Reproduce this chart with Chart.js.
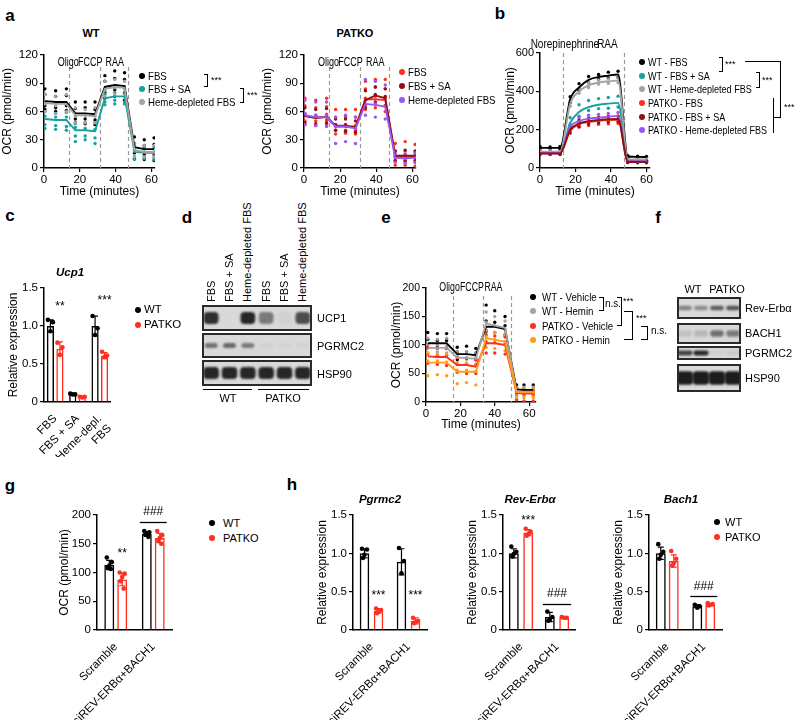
<!DOCTYPE html>
<html>
<head>
<meta charset="utf-8">
<script src="https://cdn.jsdelivr.net/npm/chart.js@4.4.0/dist/chart.umd.min.js"></script>
<style>
body { margin: 0; background: #fff; font-family: "Liberation Sans", Arial, sans-serif; }
#fig { position: relative; width: 800px; height: 721px; overflow: hidden; }
canvas { position: absolute; }
.t { position: absolute; white-space: nowrap; color: #000; font-size: 10.5px; line-height: 1; }
.dot { position: absolute; width: 6px; height: 6px; border-radius: 50%; transform: translate(-50%, -50%); }
.br { position: absolute; box-sizing: border-box; border: 1px solid #000; border-left: none; }
.ln { position: absolute; background: #000; }
</style>
</head>
<body>
<div id="fig"></div>
<script>
// ---- data ----
// panel a (seahorse, WT / PATKO)
var tA = [0.5, 6.5, 12.5, 17.5, 23, 28.5, 34, 39.5, 45, 50.5, 56, 61.5];
var injA = [14, 31, 47];
var injLabelA = [13.5, 25.8, 39.5];
var injNames = ['Oligo', 'FCCP', 'RAA'];

var wtFbs = [71, 70, 70, 58, 58, 57, 86, 88, 87, 22, 20, 20];
var wtSa = [52, 51, 51, 40, 40, 39, 74, 76, 76, 17, 16, 16];
var wtHeme = [69, 68, 68, 56, 56, 55, 84, 86, 85, 19, 17, 17];
var wtFbsReps = [[84,78,66,62],[82,76,64,60],[84,77,66,61],[70,63,52,48],[70,64,52,47],[70,62,51,46],[98,92,80,74],[103,95,83,76],[101,94,80,72],[33,26,16,10],[30,24,14,9],[32,25,14,8]];
var wtSaReps = [[60,55,46,42],[58,54,45,41],[59,54,44,40],[47,43,34,28],[48,42,34,30],[48,41,32,26],[82,78,70,67],[85,80,72,68],[84,79,70,68],[24,19,12,9],[22,17,12,10],[22,17,11,9]];
var wtHemeReps = [[78,68,60],[76,66,58],[78,68,60],[64,55,48],[62,56,48],[64,55,48],[92,84,76],[94,86,78],[92,86,76],[26,18,12],[24,17,12],[24,16,12]];

var pkFbs = [55, 54, 54, 44, 44, 44, 73, 73, 72, 12, 12, 12];
var pkSa = [55, 53, 54, 45, 45, 43, 72, 77, 74, 13, 13, 13];
var pkHeme = [56, 54, 54, 44, 44, 42, 68, 67, 65, 11, 10, 11];
var pkFbsReps = [[74,66,58,50,46],[72,64,56,50,45],[74,65,57,51,46],[62,54,46,40,36],[62,54,46,40,37],[62,54,45,40,36],[92,84,74,66,62],[94,86,76,68,64],[94,84,74,66,60],[26,18,12,8,3],[28,18,12,7,3],[25,17,11,6,2]];
var pkSaReps = [[64,56,48],[62,54,47],[63,55,48],[52,46,40],[52,46,39],[50,44,38],[82,72,64],[86,78,70],[84,76,66],[18,13,8],[19,14,8],[18,13,8]];
var pkHemeReps = [[72,58,46],[70,56,45],[70,56,44],[54,44,26],[56,44,28],[54,42,26],[94,68,56],[92,68,54],[88,66,52],[16,11,6],[15,10,5],[16,11,6]];

// panel b (norepinephrine)
var tB = [0, 5.7, 11.3, 17, 22, 27.4, 33, 38.5, 44, 49.5, 55, 60];
var injB = [13.2, 47.2];
var injLabelB = [14, 38];
var injNamesB = ['Norepinephrine', 'RAA'];
var bWtFbs = [105, 105, 105, 357, 420, 460, 475, 482, 488, 60, 58, 57];
var bWtSa = [80, 80, 80, 235, 292, 318, 330, 336, 340, 40, 38, 38];
var bWtHeme = [85, 85, 85, 335, 400, 432, 446, 452, 456, 45, 44, 44];
var bPkFbs = [78, 78, 78, 195, 228, 240, 246, 250, 252, 35, 33, 33];
var bPkSa = [76, 76, 76, 200, 232, 244, 250, 254, 256, 32, 31, 31];
var bPkHeme = [77, 77, 77, 215, 245, 258, 262, 268, 272, 36, 34, 34];
var bWtFbsReps = [[112,100],[110,100],[112,98],[372,340],[440,405],[478,445],[488,462],[500,470],[505,472],[64,55],[62,54],[60,54]];
var bWtSaReps = [[86,75],[85,76],[84,76],[262,215],[330,270],[352,300],[362,310],[368,312],[375,318],[44,36],[42,35],[41,35]];
var bWtHemeReps = [[90,80],[90,80],[88,80],[350,322],[415,390],[445,420],[458,438],[465,442],[470,445],[50,42],[48,41],[48,40]];
var bPkFbsReps = [[84,72],[83,72],[82,72],[210,180],[245,212],[260,222],[265,228],[270,230],[272,232],[40,30],[38,28],[38,28]];
var bPkSaReps = [[82,70],[80,70],[80,70],[212,188],[248,218],[258,230],[262,236],[266,240],[270,242],[36,28],[35,27],[35,27]];
var bPkHemeReps = [[82,72],[82,72],[82,72],[228,202],[262,230],[275,242],[280,246],[285,250],[290,255],[40,32],[38,30],[38,30]];

// panel e (hemin)
var tE = [1, 6.6, 12, 18.2, 23.6, 29, 35, 40, 46, 52.7, 57, 62.4];
var injE = [15.5, 33, 49.4];
var injLabelE = [13.7, 26.7, 39.2];
var eWtVeh = [103, 103, 103, 84, 84, 82, 132, 132, 128, 22, 21, 21];
var eWtHem = [95, 95, 95, 78, 77, 76, 138, 134, 130, 18, 18, 18];
var ePkVeh = [80, 79, 79, 65, 65, 62, 103, 103, 100, 16, 15, 15];
var ePkHem = [69, 69, 69, 53, 53, 53, 112, 109, 106, 18, 17, 17];
var eWtVehReps = [[122,110,95],[120,108,96],[120,108,94],[96,88,74],[98,88,76],[94,86,74],[170,142,124],[160,140,122],[150,134,118],[30,24,16],[30,22,16],[30,22,14]];
var eWtHemReps = [[112,100,86],[110,100,88],[112,98,86],[88,80,68],[88,78,68],[86,78,66],[158,140,126],[150,134,122],[142,128,116],[26,20,12],[26,18,12],[26,18,12]];
var ePkVehReps = [[96,84,68],[94,82,66],[94,82,64],[78,66,52],[76,66,50],[74,64,50],[118,106,86],[116,104,86],[114,102,84],[22,16,4],[20,14,2],[20,14,2]];
var ePkHemReps = [[86,72,46],[84,72,48],[84,70,46],[68,56,32],[68,56,34],[66,54,30],[126,114,96],[122,110,94],[118,106,90],[24,18,8],[22,16,8],[22,16,8]];

// panel c (Ucp1)
var cCats = ['FBS', 'FBS + SA', ['Heme-depl.', 'FBS']];
var cWt = [1.0, 0.1, 1.0];
var cWtSd = [0.08, 0.01, 0.13];
var cWtReps = [[1.08, 1.05, 0.93], [0.11, 0.10, 0.10], [1.13, 0.97, 0.88]];
var cPk = [0.7, 0.07, 0.61];
var cPkSd = [0.09, 0.01, 0.04];
var cPkReps = [[0.78, 0.72, 0.62], [0.07, 0.07, 0.06], [0.66, 0.61, 0.59]];

// panel g / h
var siCats = ['Scramble', 'siREV-ERBα+BACH1'];
var gWt = [113, 167], gWtSd = [8, 4], gWtReps = [[126,118,112,108,106],[172,170,168,166,162]];
var gPk = [88, 160], gPkSd = [11, 8], gPkReps = [[100,98,92,85,72],[172,165,160,155,150]];
var pgWt = [1.0, 0.89], pgWtSd = [0.06, 0.17], pgWtReps = [[1.06,1.05,0.98,0.94],[1.07,0.90,0.74]];
var pgPk = [0.25, 0.12], pgPkSd = [0.03, 0.04], pgPkReps = [[0.28,0.26,0.24,0.22],[0.16,0.12,0.10,0.09]];
var reWt = [1.0, 0.17], reWtSd = [0.06, 0.06], reWtReps = [[1.09,1.02,0.99,0.96],[0.24,0.17,0.13,0.12]];
var rePk = [1.27, 0.16], rePkSd = [0.04, 0.01], rePkReps = [[1.32,1.28,1.25,1.23],[0.17,0.16,0.16]];
var baWt = [1.0, 0.31], baWtSd = [0.08, 0.02], baWtReps = [[1.12,1.02,0.98,0.93],[0.33,0.31,0.29]];
var baPk = [0.9, 0.33], baPkSd = [0.08, 0.01], baPkReps = [[1.03,0.93,0.87,0.84],[0.35,0.34,0.33,0.32]];

// blots: band darkness per lane (0 = none, 1 = black)
var dLanes = ['FBS', 'FBS + SA', 'Heme-depleted FBS', 'FBS', 'FBS + SA', 'Heme-depleted FBS'];
var dUcp1 = [0.9, 0.0, 0.95, 0.5, 0.04, 0.75];
var dPgrmc2 = [0.55, 0.6, 0.5, 0.04, 0.03, 0.04];
var dHsp90 = [0.95, 0.95, 0.95, 0.95, 0.95, 0.95];
var fRev = [0.45, 0.4, 0.65, 0.7];
var fBach1 = [0.12, 0.18, 0.55, 0.5];
var fPgrmc2 = [0.8, 0.95, 0.06, 0.08];
var fHsp90 = [1, 1, 1, 1];

// ---- style ----
var FONT = '"Liberation Sans", Arial, sans-serif';
var BLACK = '#000000', TEAL = '#16a0a0', GRAY = '#a3a3a3', RED = '#ff2e1e',
    DRED = '#8e1010', PURPLE = '#9a55f5', ORANGE = '#ff9c1a';
Chart.defaults.font.family = FONT;
Chart.defaults.color = '#000';

var fig = document.getElementById('fig');

function makeCanvas(left, top, w, h) {
  var c = document.createElement('canvas');
  c.width = w; c.height = h;
  c.style.left = left + 'px'; c.style.top = top + 'px';
  c.style.width = w + 'px'; c.style.height = h + 'px';
  fig.appendChild(c);
  return c;
}

// text: anchor 'c' centred, 'l' left-middle; sx squeezes the text sideways
function T(x, y, s, css, anchor, sx) {
  var d = document.createElement('div');
  d.className = 't';
  d.textContent = s;
  d.style.left = x + 'px';
  d.style.top = y + 'px';
  var k = sx ? ' scaleX(' + sx + ')' : '';
  if (anchor === 'l') { d.style.transformOrigin = '0 50%'; d.style.transform = 'translate(0,-50%)' + k; }
  else d.style.transform = 'translate(-50%,-50%)' + k;
  if (css) d.style.cssText += css;
  fig.appendChild(d);
  return d;
}

function R(x, yb, s) {
  return T(x, yb, s, 'font-size:11px;transform-origin:0 0;transform:rotate(-90deg) translate(0,-50%);', 'l');
}

function dot(x, y, col) {
  var d = document.createElement('div');
  d.className = 'dot';
  d.style.left = x + 'px'; d.style.top = y + 'px'; d.style.background = col;
  fig.appendChild(d);
}

function legend(x, tx, ys, items, size, sx) {
  items.forEach(function (it, i) {
    dot(x, ys[i], it[1]);
    T(tx, ys[i], it[0], 'font-size:' + (size || 10.5) + 'px;', 'l', sx);
  });
}

function bracket(x1, y1, x2, y2) {
  var d = document.createElement('div');
  d.className = 'br';
  d.style.left = x1 + 'px'; d.style.top = y1 + 'px';
  d.style.width = (x2 - x1) + 'px'; d.style.height = (y2 - y1) + 'px';
  fig.appendChild(d);
}

function line(x, y, w, h) {
  var d = document.createElement('div');
  d.className = 'ln';
  d.style.left = x + 'px'; d.style.top = y + 'px';
  d.style.width = w + 'px'; d.style.height = h + 'px';
  fig.appendChild(d);
}

function yAxis(max, step, title, yw, fmt, tsize) {
  return {
    min: 0, max: max,
    ticks: { stepSize: step, color: '#000', font: { size: tsize || 11.5 }, padding: 2,
             callback: fmt || function (v) { return v; } },
    grid: { display: true, drawOnChartArea: false, drawTicks: true, tickLength: 4, color: '#000', lineWidth: 1.2 },
    border: { display: true, color: '#000', width: 1.5 },
    title: { display: true, text: title, color: '#000', font: { size: 12 }, padding: 0 },
    afterFit: function (s) { s.width = yw; }
  };
}

// dashed injection lines + their names
var injPlugin = {
  id: 'inj',
  beforeDatasetsDraw: function (chart, args, o) {
    var ctx = chart.ctx, a = chart.chartArea, x = chart.scales.x;
    ctx.save();
    ctx.strokeStyle = '#9a9a9a'; ctx.lineWidth = 1.2; ctx.setLineDash([4, 3]);
    o.times.forEach(function (t) {
      var px = Math.round(x.getPixelForValue(t)) + 0.5;
      ctx.beginPath(); ctx.moveTo(px, a.top + o.lineTop); ctx.lineTo(px, a.bottom); ctx.stroke();
    });
    ctx.restore();
  },
  afterDraw: function (chart, args, o) {
    var ctx = chart.ctx, a = chart.chartArea, x = chart.scales.x;
    o.names.forEach(function (s, i) {
      ctx.save();
      ctx.fillStyle = '#000'; ctx.font = '12.5px ' + FONT;
      ctx.textAlign = 'center'; ctx.textBaseline = 'middle';
      ctx.translate(x.getPixelForValue(o.labelTimes[i]), a.top + o.labelY);
      ctx.scale(o.squeeze, 1);
      ctx.fillText(s, 0, 0);
      ctx.restore();
    });
  }
};

function lineChart(box, cfg) {
  var c = makeCanvas(box.left, box.top, box.w, box.h);
  var ds = [];
  cfg.series.forEach(function (s) {
    ds.push({ type: 'line', data: cfg.t.map(function (t, i) { return { x: t, y: s.mean[i] }; }),
              borderColor: s.color, borderWidth: 1.9, pointRadius: 0, order: 1,
              tension: cfg.smooth ? 0.35 : 0, cubicInterpolationMode: cfg.smooth ? 'monotone' : 'default' });
    var pts = [];
    s.reps.forEach(function (r, i) { r.forEach(function (v) { pts.push({ x: cfg.t[i], y: v }); }); });
    ds.push({ type: 'scatter', data: pts, backgroundColor: s.color, borderWidth: 0, pointRadius: 1.7, order: 2 });
  });
  new Chart(c, {
    type: 'line',
    data: { datasets: ds },
    options: {
      responsive: false, animation: false, devicePixelRatio: 1,
      layout: { padding: { top: box.padTop, right: box.padRight, left: 0, bottom: 0 } },
      plugins: { legend: { display: false }, tooltip: { enabled: false }, inj: cfg.inj },
      scales: {
        x: {
          type: 'linear', min: 0, max: cfg.xMax,
          ticks: { stepSize: 20, includeBounds: false, color: '#000', font: { size: 11.5 }, padding: 1, maxRotation: 0 },
          grid: { display: true, drawOnChartArea: false, drawTicks: true, tickLength: 4, color: '#000', lineWidth: 1.2 },
          border: { display: true, color: '#000', width: 1.5 },
          title: { display: true, text: 'Time (minutes)', color: '#000', font: { size: 12 }, padding: 0 },
          afterFit: function (s) { s.height = box.xh; }
        },
        y: yAxis(cfg.yMax, cfg.yStep, 'OCR (pmol/min)', box.yw, null, box.tsize)
      }
    },
    plugins: [injPlugin]
  });
}

// error bars, replicate dots and significance marks on the bar charts
var JIT = [-2.5, 2.5, 0, -1.5, 1.5];
var errPlugin = {
  id: 'err',
  afterDatasetsDraw: function (chart) {
    var ctx = chart.ctx, y = chart.scales.y;
    chart.data.datasets.forEach(function (ds, i) {
      chart.getDatasetMeta(i).data.forEach(function (bar, j) {
        var m = ds.data[j], s = ds.sd[j], x = bar.x;
        var y1 = y.getPixelForValue(m - s), y2 = y.getPixelForValue(m + s);
        ctx.save();
        ctx.strokeStyle = ds.borderColor; ctx.lineWidth = 1.2;
        ctx.beginPath();
        ctx.moveTo(x, y1); ctx.lineTo(x, y2);
        ctx.moveTo(x - 3, y2); ctx.lineTo(x + 3, y2);
        ctx.moveTo(x - 3, y1); ctx.lineTo(x + 3, y1);
        ctx.stroke();
        ctx.fillStyle = ds.borderColor;
        ds.reps[j].forEach(function (v, k) {
          ctx.beginPath(); ctx.arc(x + JIT[k], y.getPixelForValue(v), 2.3, 0, Math.PI * 2); ctx.fill();
        });
        ctx.restore();
      });
    });
  },
  afterDraw: function (chart, args, o) {
    var ctx = chart.ctx, y = chart.scales.y;
    ctx.save();
    ctx.fillStyle = '#000'; ctx.strokeStyle = '#000'; ctx.lineWidth = 1.3;
    ctx.font = '12px ' + FONT; ctx.textAlign = 'center'; ctx.textBaseline = 'middle';
    (o.marks || []).forEach(function (mk) {
      var x;
      if (mk.ds != null) {
        x = chart.getDatasetMeta(mk.ds).data[mk.cat].x;
      } else {
        var a = chart.getDatasetMeta(0).data[mk.cat], b = chart.getDatasetMeta(1).data[mk.cat];
        x = (a.x + b.x) / 2;
        var ly = Math.round(y.getPixelForValue(mk.line)) + 0.5;
        ctx.beginPath(); ctx.moveTo(a.x - a.width / 2 - 2, ly); ctx.lineTo(b.x + b.width / 2 + 2, ly); ctx.stroke();
      }
      ctx.fillText(mk.text, x, y.getPixelForValue(mk.y));
    });
    ctx.restore();
  }
};

function barChart(box, cfg) {
  var c = makeCanvas(box.left, box.top, box.w, box.h);
  function set(label, data, sd, reps, col) {
    return { label: label, data: data, sd: sd, reps: reps, borderColor: col, backgroundColor: 'rgba(255,255,255,0)',
             borderWidth: 1.5, categoryPercentage: cfg.catPct, barPercentage: cfg.barPct };
  }
  new Chart(c, {
    type: 'bar',
    data: { labels: cfg.cats, datasets: [set('WT', cfg.wt, cfg.wtSd, cfg.wtReps, BLACK), set('PATKO', cfg.pk, cfg.pkSd, cfg.pkReps, RED)] },
    options: {
      responsive: false, animation: false, devicePixelRatio: 1,
      layout: { padding: { top: box.padTop, right: box.padRight, left: 0, bottom: 0 } },
      plugins: { legend: { display: false }, tooltip: { enabled: false }, err: { marks: cfg.marks } },
      scales: {
        x: {
          ticks: { autoSkip: false, minRotation: 45, maxRotation: 45, color: '#000', font: { size: 11.5 }, padding: 2 },
          grid: { display: false },
          border: { display: true, color: '#000', width: 1.5 },
          afterFit: function (s) { s.height = box.xh; }
        },
        y: yAxis(cfg.yMax, cfg.yStep, cfg.yTitle, box.yw, cfg.fmt)
      }
    },
    plugins: [errPlugin]
  });
}

// western blot strip drawn as floating bars, one per lane
var blotPlugin = {
  id: 'blot',
  beforeDraw: function (chart) {
    var ctx = chart.ctx;
    ctx.save(); ctx.fillStyle = '#d9d9d9'; ctx.fillRect(0, 0, chart.width, chart.height); ctx.restore();
  },
  beforeDatasetsDraw: function (chart) { chart.ctx.save(); chart.ctx.filter = 'blur(1.3px)'; },
  afterDatasetsDraw: function (chart) { chart.ctx.restore(); },
  afterDraw: function (chart) {
    var ctx = chart.ctx;
    ctx.save(); ctx.strokeStyle = '#2a2a2a'; ctx.lineWidth = 2;
    ctx.strokeRect(1, 1, chart.width - 2, chart.height - 2); ctx.restore();
  }
};

function blot(left, top, w, h, lanes, bandH, barPct) {
  var c = makeCanvas(left, top, w, h);
  new Chart(c, {
    type: 'bar',
    data: {
      labels: lanes.map(function (v, i) { return i; }),
      datasets: [{
        data: lanes.map(function () { return [0.5 - bandH / 2, 0.5 + bandH / 2]; }),
        backgroundColor: lanes.map(function (v) { return 'rgba(28,28,28,' + v + ')'; }),
        borderWidth: 0, borderRadius: 4, borderSkipped: false,
        categoryPercentage: 1, barPercentage: barPct
      }]
    },
    options: {
      responsive: false, animation: false, devicePixelRatio: 1,
      layout: { padding: 0 },
      plugins: { legend: { display: false }, tooltip: { enabled: false } },
      scales: { x: { display: false }, y: { display: false, min: 0, max: 1 } }
    },
    plugins: [blotPlugin]
  });
}

// ---- panel a ----
var injOptA = { times: injA, labelTimes: injLabelA, names: injNames, labelY: 8, lineTop: 12, squeeze: 0.72 };
lineChart({ left: 0, top: 46, w: 163, h: 153, yw: 44, xh: 31, padTop: 8, padRight: 8 }, {
  t: tA, xMax: 62, yMax: 120, yStep: 30, inj: injOptA,
  series: [
    { mean: wtHeme, reps: wtHemeReps, color: GRAY },
    { mean: wtSa, reps: wtSaReps, color: TEAL },
    { mean: wtFbs, reps: wtFbsReps, color: BLACK }
  ]
});
lineChart({ left: 260, top: 46, w: 164, h: 153, yw: 44, xh: 31, padTop: 8, padRight: 8 }, {
  t: tA, xMax: 62, yMax: 120, yStep: 30, inj: injOptA,
  series: [
    { mean: pkHeme, reps: pkHemeReps, color: PURPLE },
    { mean: pkSa, reps: pkSaReps, color: DRED },
    { mean: pkFbs, reps: pkFbsReps, color: RED }
  ]
});

// ---- panel b ----
lineChart({ left: 503, top: 33, w: 155, h: 166, yw: 37, xh: 31, padTop: 20, padRight: 8, tsize: 11 }, {
  t: tB, xMax: 62, yMax: 600, yStep: 200, smooth: true,
  inj: { times: injB, labelTimes: injLabelB, names: injNamesB, labelY: -8, lineTop: 0, squeeze: 0.8 },
  series: [
    { mean: bPkSa, reps: bPkSaReps, color: DRED },
    { mean: bPkHeme, reps: bPkHemeReps, color: PURPLE },
    { mean: bPkFbs, reps: bPkFbsReps, color: RED },
    { mean: bWtHeme, reps: bWtHemeReps, color: GRAY },
    { mean: bWtSa, reps: bWtSaReps, color: TEAL },
    { mean: bWtFbs, reps: bWtFbsReps, color: BLACK }
  ]
});

// ---- panel e ----
lineChart({ left: 389, top: 278, w: 155, h: 154, yw: 37, xh: 30, padTop: 10, padRight: 8, tsize: 10.5 }, {
  t: tE, xMax: 64, yMax: 200, yStep: 50,
  inj: { times: injE, labelTimes: injLabelE, names: injNames, labelY: 0, lineTop: 8, squeeze: 0.7 },
  series: [
    { mean: ePkHem, reps: ePkHemReps, color: ORANGE },
    { mean: ePkVeh, reps: ePkVehReps, color: RED },
    { mean: eWtHem, reps: eWtHemReps, color: GRAY },
    { mean: eWtVeh, reps: eWtVehReps, color: BLACK }
  ]
});

// ---- panel c ----
var fmt1 = function (v) { return v === 0 ? '0' : v.toFixed(1); };
barChart({ left: 6, top: 279, w: 116, h: 178, yw: 38, xh: 55, padTop: 8, padRight: 4 }, {
  cats: cCats, wt: cWt, wtSd: cWtSd, wtReps: cWtReps, pk: cPk, pkSd: cPkSd, pkReps: cPkReps,
  yMax: 1.5, yStep: 0.5, yTitle: 'Relative expression', fmt: fmt1, catPct: 0.85, barPct: 0.76,
  marks: [{ cat: 0, ds: 1, y: 1.25, text: '**' }, { cat: 2, ds: 1, y: 1.33, text: '***' }]
});

// ---- panel g ----
barChart({ left: 57, top: 489, w: 119, h: 231, yw: 40, xh: 90, padTop: 26, padRight: 4 }, {
  cats: siCats, wt: gWt, wtSd: gWtSd, wtReps: gWtReps, pk: gPk, pkSd: gPkSd, pkReps: gPkReps,
  yMax: 200, yStep: 50, yTitle: 'OCR (pmol/min)', catPct: 0.69, barPct: 0.77,
  marks: [{ cat: 0, ds: 1, y: 132, text: '**' }, { cat: 1, y: 205, line: 188, text: '###' }]
});

// ---- panel h ----
barChart({ left: 315, top: 505, w: 116, h: 215, yw: 38, xh: 90, padTop: 10, padRight: 4 }, {
  cats: siCats, wt: pgWt, wtSd: pgWtSd, wtReps: pgWtReps, pk: pgPk, pkSd: pgPkSd, pkReps: pgPkReps,
  yMax: 1.5, yStep: 0.5, yTitle: 'Relative expression', fmt: fmt1, catPct: 0.76, barPct: 0.68,
  marks: [{ cat: 0, ds: 1, y: 0.45, text: '***' }, { cat: 1, ds: 1, y: 0.45, text: '***' }]
});
barChart({ left: 465, top: 505, w: 114, h: 215, yw: 38, xh: 90, padTop: 10, padRight: 4 }, {
  cats: siCats, wt: reWt, wtSd: reWtSd, wtReps: reWtReps, pk: rePk, pkSd: rePkSd, pkReps: rePkReps,
  yMax: 1.5, yStep: 0.5, yTitle: 'Relative expression', fmt: fmt1, catPct: 0.8, barPct: 0.69,
  marks: [{ cat: 0, ds: 1, y: 1.42, text: '***' }, { cat: 1, y: 0.48, line: 0.34, text: '###' }]
});
barChart({ left: 611, top: 505, w: 115, h: 215, yw: 38, xh: 90, padTop: 10, padRight: 4 }, {
  cats: siCats, wt: baWt, wtSd: baWtSd, wtReps: baWtReps, pk: baPk, pkSd: baPkSd, pkReps: baPkReps,
  yMax: 1.5, yStep: 0.5, yTitle: 'Relative expression', fmt: fmt1, catPct: 0.71, barPct: 0.77,
  marks: [{ cat: 1, y: 0.57, line: 0.44, text: '###' }]
});

// ---- blots d and f ----
blot(202, 305, 110, 26, dUcp1, 0.46, 0.8);
blot(202, 333, 110, 25, dPgrmc2, 0.2, 0.7);
blot(202, 360, 110, 26, dHsp90, 0.46, 0.85);
blot(677, 297, 64, 22, fRev, 0.2, 0.85);
blot(677, 323, 64, 21, fBach1, 0.3, 0.85);
blot(677, 346, 64, 14, fPgrmc2, 0.35, 0.95);
blot(677, 364, 64, 28, fHsp90, 0.45, 1);

// ---- text, legends, brackets ----
var L = 'font-size:17px;font-weight:bold;';
T(10, 15, 'a', L); T(500, 13, 'b', L); T(10, 215, 'c', L); T(187, 217, 'd', L);
T(386, 217, 'e', L); T(658, 217, 'f', L); T(10, 485, 'g', L); T(292, 484, 'h', L);

T(91, 33, 'WT', 'font-size:11px;font-weight:bold;');
T(355, 33, 'PATKO', 'font-size:11px;font-weight:bold;');
legend(142, 148, [76, 89, 102], [['FBS', BLACK], ['FBS + SA', TEAL], ['Heme-depleted FBS', GRAY]], 10.5, 0.92);
bracket(204, 74, 208, 87); T(211, 80, '***', 'font-size:9px;', 'l');
bracket(240, 88, 244, 103); T(247, 95, '***', 'font-size:9px;', 'l');
legend(402, 408, [72, 86, 100], [['FBS', RED], ['FBS + SA', DRED], ['Heme-depleted FBS', PURPLE]], 10.5, 0.92);

legend(642, 648, [62, 76, 89, 103, 117, 130], [['WT - FBS', BLACK], ['WT - FBS + SA', TEAL], ['WT - Heme-depleted FBS', GRAY],
  ['PATKO - FBS', RED], ['PATKO - FBS + SA', DRED], ['PATKO - Heme-depleted FBS', PURPLE]], 10.5, 0.86);
bracket(719, 57, 723, 72); T(725, 64, '***', 'font-size:9px;', 'l');
bracket(756, 72, 760, 88); T(762, 80, '***', 'font-size:9px;', 'l');
line(745, 61, 36, 1); line(780, 61, 1, 57); line(773, 117, 8, 1); line(773, 98, 1, 35);
T(784, 107, '***', 'font-size:9px;', 'l');

T(70, 273, 'Ucp1', 'font-size:11.5px;font-weight:bold;font-style:italic;');
legend(138, 144, [310, 325], [['WT', BLACK], ['PATKO', RED]], 11.5);

dLanes.forEach(function (s, i) { R(211 + i * 18.2, 302, s); });
T(317, 318, 'UCP1', 'font-size:11px;', 'l');
T(317, 346, 'PGRMC2', 'font-size:11px;', 'l');
T(317, 374, 'HSP90', 'font-size:11px;', 'l');
line(203, 389, 49, 1); line(258, 389, 51, 1);
T(228, 398, 'WT', 'font-size:11px;'); T(283, 398, 'PATKO', 'font-size:11px;');

legend(533, 542, [297, 311, 326, 340], [['WT - Vehicle', BLACK], ['WT - Hemin', GRAY], ['PATKO - Vehicle', RED], ['PATKO - Hemin', ORANGE]], 11, 0.88);
bracket(599, 297, 604, 311); T(605, 304, 'n.s.', 'font-size:10px;', 'l');
bracket(617, 297, 622, 326); T(623, 301, '***', 'font-size:9px;', 'l');
bracket(624, 311, 633, 340); T(636, 318, '***', 'font-size:9px;', 'l');
bracket(641, 326, 648, 340); T(651, 331, 'n.s.', 'font-size:10px;', 'l');

T(693, 289, 'WT', 'font-size:11px;'); T(727, 289, 'PATKO', 'font-size:11px;');
T(745, 308, 'Rev-Erbα', 'font-size:11px;', 'l');
T(745, 333, 'BACH1', 'font-size:11px;', 'l');
T(745, 353, 'PGRMC2', 'font-size:11px;', 'l');
T(745, 378, 'HSP90', 'font-size:11px;', 'l');

legend(212, 223, [523, 538], [['WT', BLACK], ['PATKO', RED]], 11);
T(380, 500, 'Pgrmc2', 'font-size:11.5px;font-weight:bold;font-style:italic;');
T(530, 500, 'Rev-Erbα', 'font-size:11.5px;font-weight:bold;font-style:italic;');
T(681, 500, 'Bach1', 'font-size:11.5px;font-weight:bold;font-style:italic;');
legend(717, 725, [522, 537], [['WT', BLACK], ['PATKO', RED]], 11);
</script>
</body>
</html>
